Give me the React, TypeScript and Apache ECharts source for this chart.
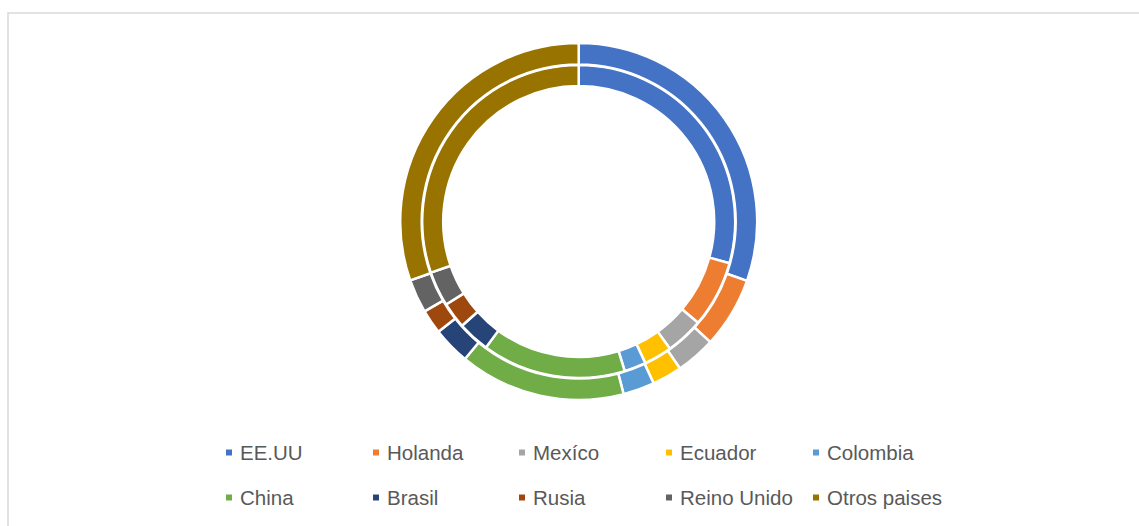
import React, { useEffect, useRef } from "react";
import * as echarts from "echarts";

const categories = ["EE.UU", "Holanda", "Mexíco", "Ecuador", "Colombia", "China", "Brasil", "Rusia", "Reino Unido", "Otros paises"];
const innerValues = [29.3, 6.9, 3.9, 2.9, 2.25, 14.85, 3.3, 2.7, 3.6, 30.3];
const outerValues = [30.4, 6.4, 3.6, 2.7, 2.85, 15.05, 3.4, 2.2, 3.05, 30.35];
const colors = ["#4472C4", "#ED7D31", "#A5A5A5", "#FFC000", "#5B9BD5", "#70AD47", "#264478", "#9E480E", "#636363", "#997300"];

const legendCols = [224, 371, 517, 664, 811];
const legendRows = [442, 487];

export default function App() {
  const ref = useRef<HTMLDivElement>(null);
  useEffect(() => {
    if (!ref.current) return;
    const chart = echarts.init(ref.current, null, { renderer: "svg" });
    const legends = categories.map((name, i) => ({
      data: [name],
      left: legendCols[i % 5],
      top: legendRows[Math.floor(i / 5)],
      icon: "rect",
      itemWidth: 8,
      itemHeight: 8,
      padding: 0,
      selectedMode: false,
      textStyle: {
        fontFamily: "Liberation Sans",
        fontSize: 20.5,
        lineHeight: 20,
        color: "#595959",
        padding: [0, 0, 0, 2],
      },
    }));
    const mkData = (vals: number[]) =>
      categories.map((name, i) => ({ name, value: vals[i], itemStyle: { color: colors[i] } }));
    chart.setOption({
      animation: false,
      color: colors,
      legend: legends,
      graphic: [
        {
          type: "rect",
          shape: { x: 8, y: 13, width: 1200, height: 600 },
          style: { fill: "none", stroke: "#d9d9d9", lineWidth: 1.5 },
          silent: true,
        },
      ],
      series: [
        {
          name: "Serie 1",
          type: "pie",
          center: [578.7, 221.5],
          radius: [135.5, 156.5],
          startAngle: 90,
          clockwise: true,
          label: { show: false },
          labelLine: { show: false },
          silent: true,
          itemStyle: { borderColor: "#ffffff", borderWidth: 2.5 },
          data: mkData(innerValues),
        },
        {
          name: "Serie 2",
          type: "pie",
          center: [578.7, 221.5],
          radius: [157, 178.5],
          startAngle: 90,
          clockwise: true,
          label: { show: false },
          labelLine: { show: false },
          silent: true,
          itemStyle: { borderColor: "#ffffff", borderWidth: 2.5 },
          data: mkData(outerValues),
        },
      ],
    });
    return () => chart.dispose();
  }, []);
  return (
    <div
      ref={ref}
      style={{ position: "fixed", left: 0, top: 0, width: 1139, height: 526, background: "#ffffff" }}
    />
  );
}
